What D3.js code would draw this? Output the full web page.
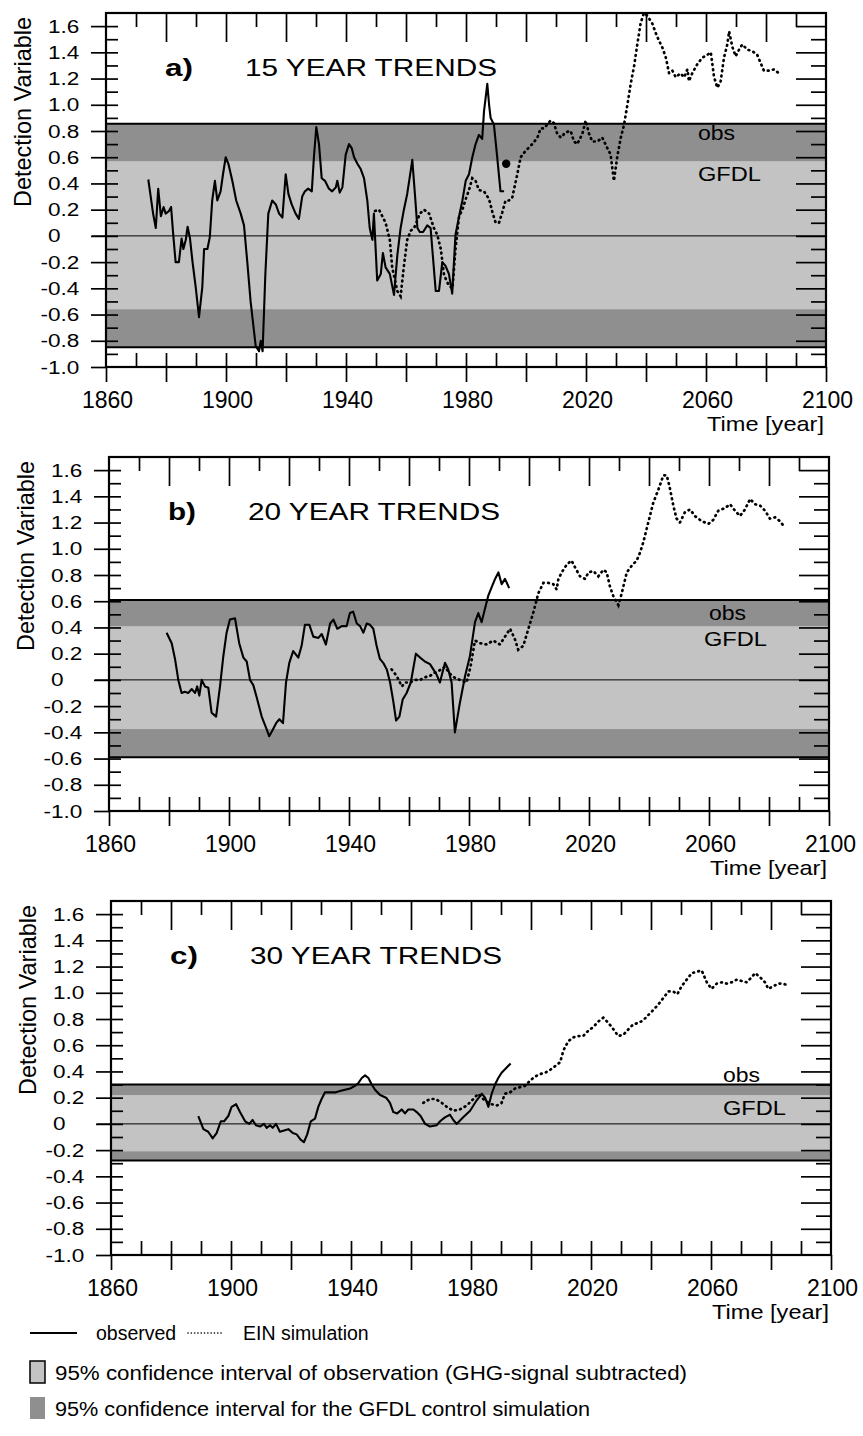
<!DOCTYPE html>
<html><head><meta charset="utf-8">
<script src="https://cdn.jsdelivr.net/npm/d3@7"></script>
<style>
body{margin:0;background:#fff}
svg{display:block}
text{font-family:"Liberation Sans",Arial,Helvetica,sans-serif;fill:#000}
</style>
</head><body>
<svg id="chart" width="863" height="1436"></svg>
<script>
// ---------------- DATA ----------------
const panelLetters = ["a)", "b)", "c)"];
const panelTitles = ["15 YEAR TRENDS", "20 YEAR TRENDS", "30 YEAR TRENDS"];
const xTickLabels = [1860, 1900, 1940, 1980, 2020, 2060, 2100];
const yTickLabels = [-1.0,-0.8,-0.6,-0.4,-0.2,0,0.2,0.4,0.6,0.8,1.0,1.2,1.4,1.6];
const bandLabels = ["obs", "GFDL"];
const legendLabels = ["observed", "EIN simulation",
  "95% confidence interval of observation (GHG-signal subtracted)",
  "95% confidence interval for the GFDL control simulation"];

// confidence bands: [GFDL low, obs low, obs high, GFDL high]
const bandA = [-0.85, -0.56, 0.57, 0.856];
const bandB = [-0.59, -0.375, 0.41, 0.61];
const bandC = [-0.28, -0.21, 0.22, 0.30];

// 15-year trends
const obsA = [[1874.1,0.43],[1875.7,0.17],[1876.6,0.06],[1877.4,0.36],[1878.3,0.15],[1879.2,0.22],[1879.9,0.17],[1881,0.19],[1881.7,0.22],[1882.3,0.04],[1883.2,-0.2],[1884.3,-0.2],[1885.2,-0.02],[1885.8,-0.1],[1886.6,-0.03],[1887.2,0.07],[1888,-0.02],[1888.8,-0.19],[1889.9,-0.39],[1891,-0.62],[1892.1,-0.39],[1892.7,-0.1],[1893.8,-0.1],[1894.6,-0.01],[1895.4,0.27],[1896.3,0.42],[1897.1,0.27],[1898.2,0.34],[1899,0.47],[1899.9,0.6],[1900.8,0.55],[1902.1,0.42],[1903.4,0.27],[1904.9,0.17],[1906,0.08],[1907.1,-0.2],[1908.2,-0.5],[1909.9,-0.84],[1911,-0.88],[1911.6,-0.8],[1912.2,-0.88],[1913.1,-0.3],[1914.1,0.17],[1915.4,0.27],[1916.6,0.24],[1917.7,0.17],[1918.8,0.14],[1919.9,0.47],[1920.8,0.32],[1921.9,0.24],[1923.2,0.17],[1924.3,0.13],[1925.4,0.3],[1926.3,0.34],[1927.4,0.36],[1928.6,0.34],[1929.3,0.6],[1930.1,0.83],[1931,0.7],[1931.9,0.44],[1933,0.42],[1934.3,0.36],[1935.4,0.34],[1936.6,0.37],[1937.1,0.42],[1937.9,0.33],[1938.8,0.37],[1939.9,0.62],[1941,0.7],[1941.9,0.67],[1942.7,0.6],[1943.8,0.55],[1944.9,0.51],[1946,0.44],[1947.1,0.27],[1947.9,0.06],[1948.8,-0.03],[1949.3,0.17],[1950.4,-0.34],[1951.6,-0.29],[1952.3,-0.13],[1953.2,-0.24],[1954.6,-0.29],[1956,-0.45],[1957.1,-0.15],[1958.2,0.06],[1959.3,0.2],[1960.4,0.32],[1961.2,0.44],[1962.1,0.58],[1963,0.31],[1963.8,0.06],[1964.6,0.03],[1965.7,0.03],[1967.1,0.08],[1968.2,0.06],[1969.9,-0.42],[1971,-0.42],[1972.1,-0.2],[1973.2,-0.23],[1974.3,-0.29],[1975.4,-0.44],[1976.5,0.01],[1977.7,0.15],[1978.8,0.27],[1979.9,0.42],[1981,0.47],[1982.1,0.6],[1983.2,0.7],[1984.3,0.77],[1985.4,0.74],[1986,0.95],[1987.1,1.16],[1987.7,1.0],[1988.2,0.9],[1989.3,0.85],[1990.4,0.6],[1991.5,0.34],[1992.7,0.34]];
const einA = [[1949.7,0.19],[1951,0.2],[1953.2,0.1],[1954.6,-0.03],[1955.4,-0.24],[1957.1,-0.42],[1958.2,-0.46],[1959.3,-0.23],[1960.4,-0.03],[1961.6,0.04],[1962.7,0.06],[1963.8,0.12],[1964.6,0.17],[1966,0.2],[1967.7,0.17],[1969.3,0.06],[1970.4,0.01],[1971.6,-0.1],[1972.7,-0.3],[1974.3,-0.38],[1975.5,-0.4],[1976.5,-0.1],[1977.7,0.15],[1978.8,0.2],[1979.9,0.28],[1981,0.35],[1982.1,0.44],[1983.2,0.42],[1984.3,0.35],[1986,0.34],[1987.7,0.28],[1988.8,0.18],[1989.9,0.1],[1991,0.1],[1992.1,0.18],[1993.2,0.27],[1994.3,0.27],[1995.4,0.29],[1997.1,0.47],[1998.2,0.6],[1999.9,0.65],[2002.1,0.7],[2003.8,0.75],[2004.9,0.82],[2006,0.82],[2007.1,0.85],[2008.2,0.88],[2009.3,0.86],[2010.4,0.78],[2011.6,0.75],[2013.2,0.79],[2014.9,0.8],[2016,0.72],[2017.1,0.7],[2018.8,0.78],[2019.9,0.88],[2021,0.78],[2022.1,0.72],[2023.8,0.72],[2025.4,0.75],[2027.1,0.67],[2028.2,0.62],[2029.3,0.42],[2030.4,0.6],[2031.6,0.75],[2032.7,0.85],[2033.8,1.0],[2034.9,1.16],[2036,1.29],[2037.1,1.46],[2038.2,1.62],[2039.3,1.7],[2040.4,1.68],[2042.1,1.62],[2043.2,1.55],[2044.3,1.49],[2045.4,1.44],[2046.6,1.36],[2047.7,1.24],[2048.8,1.26],[2049.9,1.21],[2051.5,1.24],[2052.7,1.21],[2053.8,1.27],[2054.3,1.18],[2055.4,1.24],[2057.1,1.31],[2058.8,1.36],[2060.4,1.38],[2061.6,1.4],[2062.7,1.21],[2063.8,1.13],[2064.9,1.18],[2066,1.36],[2067.1,1.46],[2067.7,1.56],[2068.8,1.44],[2069.9,1.37],[2071,1.42],[2072.1,1.46],[2073.8,1.42],[2075.4,1.41],[2077.1,1.38],[2078.2,1.32],[2079.3,1.26],[2081,1.26],[2082.7,1.27],[2084.3,1.24]];
const markA = [[1993.4, 0.55]];

// 20-year trends
const obsB = [[1879.2,0.36],[1880.9,0.28],[1882,0.16],[1883.1,0.0],[1884.2,-0.1],[1885.3,-0.09],[1886.4,-0.1],[1887.6,-0.07],[1888.7,-0.1],[1889.4,-0.05],[1890.1,-0.12],[1890.9,0.0],[1892,-0.05],[1893.1,-0.06],[1894.2,-0.25],[1895.7,-0.28],[1897,-0.05],[1898.1,0.18],[1899.2,0.36],[1900.3,0.46],[1902,0.47],[1903.4,0.28],[1904.8,0.17],[1905.9,0.14],[1907,0.0],[1908.1,-0.04],[1909.2,-0.13],[1910.9,-0.28],[1912.6,-0.38],[1913.4,-0.43],[1914.6,-0.38],[1915.7,-0.33],[1916.8,-0.3],[1918,-0.33],[1919,-0.02],[1920.1,0.13],[1921.4,0.22],[1923.1,0.17],[1924.2,0.26],[1925.3,0.42],[1926.8,0.42],[1928.1,0.33],[1929.8,0.32],[1930.9,0.35],[1932.3,0.27],[1933.7,0.43],[1934.8,0.46],[1936.1,0.39],[1937.6,0.41],[1939.2,0.41],[1940.3,0.51],[1941.4,0.52],[1942.6,0.43],[1943.7,0.41],[1944.8,0.36],[1945.9,0.43],[1947,0.42],[1948.1,0.39],[1949.2,0.26],[1950.3,0.16],[1951.4,0.13],[1952.6,0.08],[1953.7,-0.02],[1954.8,-0.17],[1955.7,-0.31],[1956.8,-0.28],[1957.9,-0.15],[1959.2,-0.1],[1960.6,-0.02],[1962.3,0.2],[1963.7,0.17],[1965.3,0.14],[1967,0.12],[1968.1,0.08],[1969.2,0.04],[1970.3,-0.02],[1972,0.13],[1973.1,0.08],[1974.2,-0.02],[1975.3,-0.4],[1977,-0.17],[1978.7,0.03],[1980.3,0.18],[1982,0.44],[1983.1,0.51],[1984.2,0.44],[1985.3,0.54],[1986.4,0.64],[1987.6,0.71],[1988.7,0.77],[1989.8,0.82],[1990.9,0.73],[1992,0.77],[1993.4,0.7]];
const einB = [[1954.2,0.08],[1955.9,0.03],[1957.6,-0.05],[1958.7,-0.02],[1960.3,-0.02],[1962,0.0],[1963.7,0.0],[1965.3,0.02],[1967,0.03],[1968.1,0.05],[1970,0.07],[1972,0.1],[1973.5,0.05],[1975,0.02],[1977,0.0],[1979.2,-0.02],[1980.5,0.1],[1982,0.3],[1983.7,0.28],[1985.9,0.27],[1988.1,0.3],[1990.3,0.27],[1992,0.33],[1993.7,0.39],[1995.3,0.31],[1996.4,0.23],[1998.1,0.26],[1999.8,0.39],[2001.4,0.51],[2003.1,0.66],[2004.8,0.74],[2006.4,0.74],[2008.1,0.73],[2009.2,0.69],[2009.8,0.77],[2010.9,0.82],[2012.6,0.88],[2014.2,0.91],[2015.3,0.86],[2017,0.79],[2018.7,0.77],[2019.8,0.82],[2021.5,0.83],[2023.1,0.79],[2024.8,0.84],[2025.9,0.82],[2027,0.71],[2028.1,0.64],[2029.8,0.57],[2030.9,0.66],[2032.6,0.82],[2034.2,0.87],[2035.9,0.91],[2037,0.97],[2038.1,1.05],[2039.2,1.15],[2040.3,1.25],[2041.4,1.35],[2043.1,1.45],[2044.8,1.56],[2045.9,1.56],[2046.8,1.48],[2048.1,1.33],[2049.2,1.23],[2050.3,1.2],[2052,1.28],[2053.7,1.3],[2055.3,1.25],[2057.6,1.21],[2059.8,1.19],[2061.4,1.22],[2063.1,1.29],[2065.3,1.31],[2067,1.34],[2068.7,1.29],[2070.3,1.25],[2072,1.3],[2073.7,1.38],[2075.3,1.34],[2077,1.33],[2078.7,1.29],[2080.3,1.23],[2082,1.24],[2083.7,1.21],[2085.3,1.16]];

// 30-year trends
const obsC = [[1889.1,0.06],[1890.8,-0.04],[1892.4,-0.06],[1893.9,-0.11],[1895.2,-0.07],[1896.6,0.02],[1897.7,0.02],[1899.1,0.06],[1900.2,0.13],[1901.7,0.15],[1903,0.09],[1904.7,0.02],[1906.1,0.0],[1907.2,0.03],[1908.3,-0.01],[1909.7,-0.02],[1911,0.0],[1911.9,-0.03],[1913,-0.01],[1913.9,-0.03],[1915,0.0],[1916.3,-0.06],[1917.7,-0.05],[1919.1,-0.04],[1920.6,-0.07],[1921.9,-0.08],[1923.2,-0.12],[1924.3,-0.14],[1925.4,-0.08],[1926.6,0.02],[1928,0.04],[1929.1,0.13],[1930.2,0.19],[1931.3,0.24],[1933,0.24],[1934.7,0.24],[1936.3,0.25],[1938,0.26],[1939.7,0.27],[1941.3,0.29],[1942.4,0.31],[1943.6,0.35],[1944.7,0.37],[1945.8,0.35],[1946.9,0.3],[1948,0.26],[1949.7,0.22],[1951.7,0.2],[1953,0.16],[1954.1,0.09],[1955.4,0.08],[1956.9,0.11],[1958,0.08],[1959.1,0.11],[1960.8,0.11],[1961.9,0.09],[1963.2,0.06],[1964.7,0.0],[1966.3,-0.02],[1968.6,-0.01],[1969.7,0.02],[1971.3,0.05],[1973,0.07],[1974.1,0.03],[1975.2,0.0],[1977.4,0.05],[1979.7,0.1],[1981.9,0.18],[1983.6,0.23],[1984.7,0.2],[1985.8,0.13],[1986.9,0.23],[1988,0.3],[1989.1,0.35],[1990.2,0.39],[1991.9,0.43],[1993.2,0.46]];
const einC = [[1964.1,0.16],[1966.3,0.19],[1968,0.19],[1969.7,0.17],[1971.9,0.13],[1974.1,0.1],[1976.3,0.11],[1978.6,0.14],[1980.8,0.19],[1982.4,0.23],[1984.1,0.19],[1985.2,0.17],[1986.9,0.15],[1988.6,0.14],[1990.2,0.16],[1991.3,0.23],[1993,0.24],[1994.7,0.27],[1996.3,0.28],[1998,0.29],[1999.7,0.33],[2001.3,0.36],[2003,0.38],[2004.7,0.39],[2006.3,0.41],[2008,0.44],[2009.7,0.47],[2010.8,0.56],[2012.4,0.63],[2014.1,0.66],[2015.8,0.67],[2017.4,0.67],[2019.1,0.71],[2020.8,0.74],[2022.4,0.78],[2024.1,0.81],[2025.8,0.77],[2027.2,0.73],[2029.1,0.67],[2030.8,0.68],[2032.4,0.72],[2034.1,0.76],[2035.8,0.77],[2037.4,0.79],[2039.1,0.83],[2040.8,0.87],[2042.4,0.91],[2044.1,0.96],[2045.8,1.01],[2047.4,1.01],[2048.8,0.99],[2050.2,1.05],[2051.9,1.1],[2053.6,1.15],[2055.2,1.16],[2056.9,1.17],[2058.6,1.08],[2060.2,1.03],[2061.9,1.07],[2063.6,1.08],[2065.2,1.07],[2066.9,1.08],[2068.6,1.1],[2070.2,1.09],[2071.9,1.08],[2073.6,1.12],[2074.7,1.15],[2076.3,1.12],[2078,1.08],[2079.1,1.03],[2080.8,1.05],[2082.4,1.07],[2084.1,1.07],[2085.2,1.06]];

// ---------------- LAYOUT / STYLE ----------------
const LIGHT = "#c3c3c3", DARK = "#8f8f8f";
const panelLefts = [106, 109, 111];
const panelTops = [13, 457, 901];
const PW = 720, PH = 354;
// annotation anchors (year, value) for the "obs" / "GFDL" labels
const obsLabelAt = [[2057.3,0.73],[2060,0.46],[2064,0.32]];
const gfdlLabelAt = [[2057.3,0.42],[2058.3,0.26],[2064,0.07]];

const panels = [
  {obs: obsA, ein: einA, band: bandA, mark: markA},
  {obs: obsB, ein: einB, band: bandB, mark: []},
  {obs: obsC, ein: einC, band: bandC, mark: []}
];

const svg = d3.select("#chart");

function stripDomain(sel){ sel.select(".domain").remove(); sel.selectAll(".tick text").remove(); }

panels.forEach((p, i) => {
  const L = panelLefts[i], T = panelTops[i];
  const x = d3.scaleLinear().domain([1860, 2100]).range([L, L + PW]);
  const y = d3.scaleLinear().domain([-1.0, 1.7]).range([T + PH, T]);
  const g = svg.append("g");

  // bands
  g.append("rect").attr("x", L).attr("width", PW)
    .attr("y", y(p.band[3])).attr("height", y(p.band[0]) - y(p.band[3])).attr("fill", DARK);
  g.append("rect").attr("x", L).attr("width", PW)
    .attr("y", y(p.band[2])).attr("height", y(p.band[1]) - y(p.band[2])).attr("fill", LIGHT);
  [p.band[0], p.band[3]].forEach(v => {
    g.append("line").attr("x1", L).attr("x2", L + PW).attr("y1", y(v)).attr("y2", y(v))
      .attr("stroke", "#000").attr("stroke-width", 2);
  });
  // zero line
  g.append("line").attr("x1", L - 14).attr("x2", L + PW).attr("y1", y(0)).attr("y2", y(0))
    .attr("stroke", "#000").attr("stroke-width", 1);

  const tenths = d3.range(-9, 17).map(k => k / 10);
  const majors = d3.range(-10, 17, 2).map(k => k / 10);
  const minorsR = d3.range(-9, 17, 2).map(k => k / 10);
  const tickStyle = s => s.selectAll("line").attr("stroke", "#000").attr("stroke-width", 1.7);

  // left axis: outward majors + inward all tenths
  g.append("g").attr("transform", `translate(${L},0)`)
    .call(d3.axisLeft(y).tickValues(majors).tickSize(15)).call(stripDomain).call(tickStyle);
  g.append("g").attr("transform", `translate(${L},0)`)
    .call(d3.axisRight(y).tickValues(tenths).tickSize(12)).call(stripDomain).call(tickStyle);
  // right axis: inward, long at even tenths, short at odd tenths
  g.append("g").attr("transform", `translate(${L + PW},0)`)
    .call(d3.axisLeft(y).tickValues(majors.filter(v => v > -1)).tickSize(30)).call(stripDomain).call(tickStyle);
  g.append("g").attr("transform", `translate(${L + PW},0)`)
    .call(d3.axisLeft(y).tickValues(minorsR).tickSize(15)).call(stripDomain).call(tickStyle);
  // bottom axis: inward every decade, outward every 20 years
  g.append("g").attr("transform", `translate(0,${T + PH})`)
    .call(d3.axisTop(x).tickValues(d3.range(1870, 2100, 10)).tickSize(14)).call(stripDomain).call(tickStyle);
  g.append("g").attr("transform", `translate(0,${T + PH})`)
    .call(d3.axisBottom(x).tickValues(d3.range(1860, 2101, 20)).tickSize(15)).call(stripDomain).call(tickStyle);
  // top axis: inward, short at odd decades, long at 20-year marks
  g.append("g").attr("transform", `translate(0,${T})`)
    .call(d3.axisBottom(x).tickValues(d3.range(1870, 2100, 20)).tickSize(14)).call(stripDomain).call(tickStyle);
  g.append("g").attr("transform", `translate(0,${T})`)
    .call(d3.axisBottom(x).tickValues(d3.range(1880, 2100, 20)).tickSize(29)).call(stripDomain).call(tickStyle);

  // frame
  g.append("rect").attr("x", L).attr("y", T).attr("width", PW).attr("height", PH)
    .attr("fill", "none").attr("stroke", "#000").attr("stroke-width", 2.2);

  // series
  const line = d3.line().x(d => x(d[0])).y(d => y(d[1]));
  g.append("path").datum(p.ein).attr("d", line).attr("fill", "none")
    .attr("stroke", "#000").attr("stroke-width", 2.7).attr("stroke-linecap", "round")
    .attr("stroke-dasharray", "0.8 4.4");
  g.append("path").datum(p.obs).attr("d", line).attr("fill", "none")
    .attr("stroke", "#000").attr("stroke-width", 2.1).attr("stroke-linejoin", "round");
  g.selectAll(".mark").data(p.mark).join("circle")
    .attr("cx", d => x(d[0])).attr("cy", d => y(d[1])).attr("r", 4.2).attr("fill", "#000");

  // y tick labels, decimal aligned, horizontally stretched
  const yl = L - 58;
  yTickLabels.forEach(v => {
    const yy = y(v) + 6.6;
    const s = Math.abs(v) < 1e-9 ? "0" : d3.format(".1f")(Math.abs(v));
    g.append("text").attr("transform", `translate(${yl},${yy}) scale(1.22,1)`)
      .attr("font-size", 18.5).text(s);
    if (v < 0) g.append("text").attr("transform", `translate(${yl},${yy}) scale(1.22,1)`)
      .attr("text-anchor", "end").attr("font-size", 18.5).text("-");
  });
  // x tick labels
  xTickLabels.forEach(yr => {
    g.append("text").attr("x", x(yr) + 1.5).attr("y", T + PH + 41)
      .attr("text-anchor", "middle").attr("font-size", 23).text(yr);
  });
  // axis titles
  g.append("text").attr("x", L + PW - 2).attr("y", T + PH + 64).attr("text-anchor", "end")
    .attr("font-size", 21).attr("textLength", 117).attr("lengthAdjust", "spacingAndGlyphs")
    .text("Time [year]");
  g.append("text").attr("transform", `translate(${L - 75},${T + 99}) rotate(-90)`)
    .attr("text-anchor", "middle").attr("font-size", 24)
    .attr("textLength", 190).attr("lengthAdjust", "spacingAndGlyphs").text("Detection Variable");
  // panel title
  g.append("text").attr("x", L + 59).attr("y", T + 63).attr("font-size", 24).attr("font-weight", "bold")
    .attr("textLength", 28).attr("lengthAdjust", "spacingAndGlyphs").text(panelLetters[i]);
  g.append("text").attr("x", L + 139).attr("y", T + 63).attr("font-size", 23)
    .attr("textLength", 252).attr("lengthAdjust", "spacingAndGlyphs").text(panelTitles[i]);
  // band labels
  g.append("text").attr("x", x(obsLabelAt[i][0])).attr("y", y(obsLabelAt[i][1])).attr("font-size", 19.5)
    .attr("textLength", 37).attr("lengthAdjust", "spacingAndGlyphs").text(bandLabels[0]);
  g.append("text").attr("x", x(gfdlLabelAt[i][0])).attr("y", y(gfdlLabelAt[i][1])).attr("font-size", 19.5)
    .attr("textLength", 63).attr("lengthAdjust", "spacingAndGlyphs").text(bandLabels[1]);
});

// ---------------- LEGEND ----------------
const lg = svg.append("g");
lg.append("line").attr("x1", 30).attr("x2", 77).attr("y1", 1333).attr("y2", 1333)
  .attr("stroke", "#000").attr("stroke-width", 2);
lg.append("text").attr("x", 96).attr("y", 1340).attr("font-size", 19.5).text(legendLabels[0]);
lg.append("line").attr("x1", 188).attr("x2", 222).attr("y1", 1333).attr("y2", 1333)
  .attr("stroke", "#000").attr("stroke-width", 1.6).attr("stroke-linecap", "round").attr("stroke-dasharray", "0.1 3.2");
lg.append("text").attr("x", 243).attr("y", 1340).attr("font-size", 19.5).text(legendLabels[1]);
lg.append("rect").attr("x", 30).attr("y", 1361).attr("width", 15).attr("height", 22)
  .attr("fill", LIGHT).attr("stroke", "#000").attr("stroke-width", 1.5);
lg.append("text").attr("x", 55).attr("y", 1380).attr("font-size", 20)
  .attr("textLength", 632).attr("lengthAdjust", "spacingAndGlyphs").text(legendLabels[2]);
lg.append("rect").attr("x", 30).attr("y", 1397).attr("width", 15).attr("height", 22)
  .attr("fill", DARK);
lg.append("text").attr("x", 55).attr("y", 1416).attr("font-size", 20)
  .attr("textLength", 535).attr("lengthAdjust", "spacingAndGlyphs").text(legendLabels[3]);
</script>
</body></html>
